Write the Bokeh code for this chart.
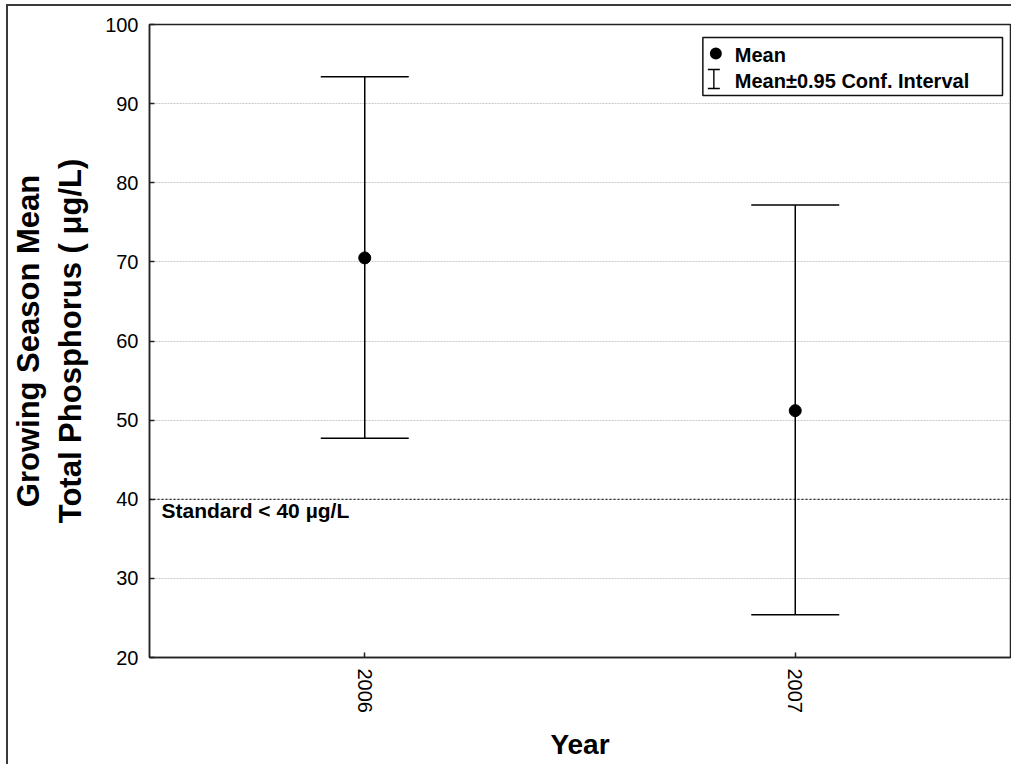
from bokeh.plotting import figure
from bokeh.models import (FactorRange, Range1d, Whisker, TeeHead, ColumnDataSource,
                          Span, Label, BoxAnnotation, FixedTicker)
from bokeh.embed import file_html
from bokeh.resources import INLINE

# ---- data ----
years = ["2006", "2007"]
means = [70.5, 51.2]
ci_upper = [93.4, 77.2]
ci_lower = [47.7, 25.4]
standard = 40
y_ticks = [20, 30, 40, 50, 60, 70, 80, 90, 100]

FONT = "Liberation Sans"

W, H = 1005, 760
p = figure(x_range=FactorRange(factors=years), y_range=Range1d(20, 100),
           width=W, height=H, output_backend="svg", toolbar_location=None,
           min_border_left=140, min_border_right=3, min_border_top=18, min_border_bottom=109)

p.styles = {"margin-left": "6px", "margin-top": "4px",
            "border-left": "2px solid #3a3a3a", "border-top": "2px solid #3a3a3a"}

p.outline_line_color = "#222222"
p.outline_line_width = 1.5
p.background_fill_color = "white"
p.border_fill_color = "white"

# grid
p.xgrid.grid_line_color = None
p.ygrid.grid_line_color = "#c8c8c8"
p.ygrid.grid_line_dash = "2 1"
p.ygrid.grid_line_width = 1

# axes
for ax in (p.xaxis[0], p.yaxis[0]):
    ax.axis_line_color = "#222222"
    ax.axis_line_width = 1.5
    ax.major_tick_in = 5
    ax.major_tick_out = 0
    ax.major_tick_line_color = "#222222"
    ax.major_tick_line_width = 1.5
    ax.minor_tick_line_color = None
    ax.major_label_text_font = FONT
    ax.major_label_text_font_size = "20px"
    ax.major_label_text_color = "black"
    ax.axis_label_text_font = FONT
    ax.axis_label_text_font_style = "bold"
    ax.axis_label_text_color = "black"
    ax.major_label_standoff = 11

p.yaxis.ticker = FixedTicker(ticks=y_ticks)
p.yaxis.axis_label = "Growing Season Mean\nTotal Phosphorus ( \u03bcg/L)"
p.yaxis.axis_label_text_font_size = "31px"
p.yaxis.axis_label_standoff = 14

p.xaxis.axis_label = "Year"
p.xaxis.axis_label_text_font_size = "28px"
p.xaxis.axis_label_standoff = 13
p.xaxis.major_label_orientation = "vertical"

src = ColumnDataSource(dict(year=years, mean=means, upper=ci_upper, lower=ci_lower))

# standard line
p.add_layout(Span(location=standard, dimension="width", line_color="black",
                  line_width=1, line_dash="2 2"))

# error bars
wh = Whisker(source=src, base="year", upper="upper", lower="lower", dimension="height",
             line_color="black", line_width=1.5,
             upper_head=TeeHead(size=88, line_color="black", line_width=1.5),
             lower_head=TeeHead(size=88, line_color="black", line_width=1.5))
p.add_layout(wh)

p.scatter(x="year", y="mean", source=src, size=12, color="black")

# helpers for decoration placement (page px -> plot coords)
FL, FT, FW, FH = 148, 24, 862, 633
def dx(px):
    return (px - FL) / FW * 2.0
def dy(py):
    return 100 - (py - FT) / FH * 80.0

p.add_layout(Label(x=dx(160), y=standard, text="Standard < 40 \u00b5g/L", text_baseline="top",
                   text_font=FONT, text_font_style="bold", text_font_size="21px",
                   text_color="black"))

# legend (manual)
p.add_layout(BoxAnnotation(left=dx(702), right=dx(1002), top=dy(37), bottom=dy(95),
                           fill_color="white", fill_alpha=1.0,
                           line_color="#111111", line_alpha=1.0, line_width=1.5))
# circle symbol
p.add_layout(BoxAnnotation(left=dx(709), right=dx(721), top=dy(47), bottom=dy(59),
                           fill_color="black", fill_alpha=1.0, line_color=None,
                           border_radius=6))
# I-beam symbol
p.add_layout(BoxAnnotation(left=dx(712.3), right=dx(713.7), top=dy(69), bottom=dy(88),
                           fill_color="black", fill_alpha=1.0, line_color=None))
for yy in (69, 88):
    p.add_layout(BoxAnnotation(left=dx(707), right=dx(719), top=dy(yy - 0.7), bottom=dy(yy + 0.7),
                               fill_color="black", fill_alpha=1.0, line_color=None))
p.add_layout(Label(x=dx(734), y=dy(54), text="Mean", text_baseline="middle",
                   text_font=FONT, text_font_style="bold", text_font_size="20px", text_color="black"))
p.add_layout(Label(x=dx(734), y=dy(80), text="Mean\u00b10.95 Conf. Interval", text_baseline="middle",
                   text_font=FONT, text_font_style="bold", text_font_size="20px", text_color="black"))

open("out.html", "w").write(file_html(p, INLINE))
